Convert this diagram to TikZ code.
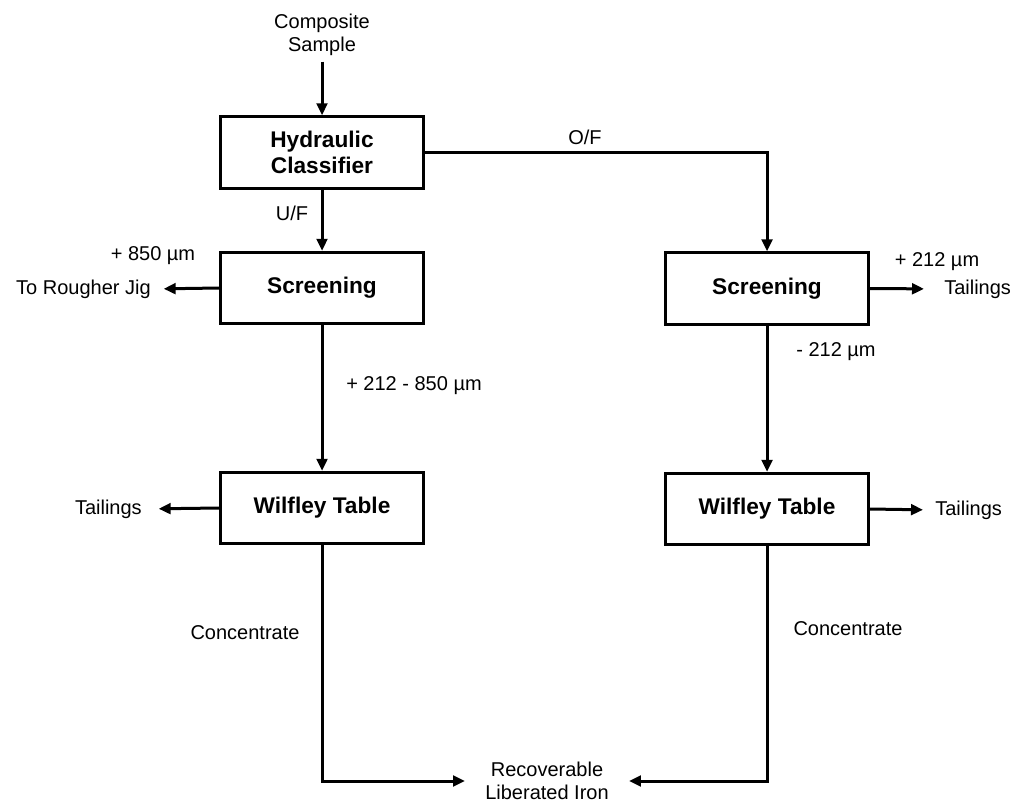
\documentclass[tikz,border=0pt]{standalone}
\usepackage{fontspec}
\setmainfont{Liberation Sans}
\usepackage{tikz}
\usetikzlibrary{positioning,calc}
\usetikzlibrary{arrows.meta}
\tikzset{
  unit/.style={draw=black,line width=2.25pt,fill=white,inner sep=0pt,
    minimum width=152pt,minimum height=53.5pt,align=center,
    font=\fontsize{17}{19.5}\selectfont\bfseries},
  flow/.style={draw=black,line width=2.25pt,-{Triangle[length=9pt,width=8pt]}},
}
\tikzset{lbl/.style={inner sep=0pt,align=center,font=\fontsize{15}{17.5}\selectfont}}

\begin{document}
\begin{tikzpicture}[x=0.75pt,y=-0.75pt]
\useasboundingbox (0,0) rectangle (1012,806);
% process units
\node[unit] (hc) at (322,152.5) {Hydraulic\\Classifier};
\node[unit] (scrl) at (322,288) {Screening};
\node[unit] (scrr) at (767,288.5) {Screening};
\node[unit] (wtl) at (322,508) {Wilfley Table};
\node[unit] (wtr) at (767,509) {Wilfley Table};
% streams in and out
\node[lbl] (feed) at (322,35) {Composite\\Sample};
\node[lbl,anchor=east] (jig) at (151,289) {To Rougher Jig};
\node[lbl,anchor=west] (tailr) at (944,289) {Tailings};
\node[lbl,anchor=east] (tailwl) at (142,509) {Tailings};
\node[lbl,anchor=west] (tailwr) at (935,510) {Tailings};
\node[lbl] (iron) at (547,781) {Recoverable\\Liberated Iron};
% stream labels
\node[lbl] (uf) at (292,213) {U/F};
\node[lbl] (of) at (585,137) {O/F};
\node[lbl] (p850) at (153,256) {+ 850 µm};
\node[lbl] (p212) at (937,262) {+ 212 µm};
\node[lbl] (m212) at (836,352) {- 212 µm};
\node[lbl] (mid) at (414,386) {+ 212 - 850 µm};
\node[lbl] (concl) at (245,633) {Concentrate};
\node[lbl] (concr) at (848,629) {Concentrate};
% connectors
\draw[flow] ([yshift=-4pt]feed.south) -- (hc.north);
\draw[flow] (hc.south) -- (scrl.north);
\draw[flow] (hc.east) -| (scrr.north);
\draw[flow,shorten >=9.5pt] (scrl.west) -- (jig.east);
\draw[flow] (scrl.south) -- (wtl.north);
\draw[flow,shorten >=15pt] (scrr.east) -- (tailr.west);
\draw[flow] (scrr.south) -- (wtr.north);
\draw[flow,shorten >=12.5pt] (wtl.west) -- (tailwl.east);
\draw[flow,shorten >=9pt] (wtr.east) -- (tailwr.west);
\draw[flow,shorten >=15pt] (wtl.south) |- (iron.west);
\draw[flow,shorten >=15pt] (wtr.south) |- (iron.east);
\end{tikzpicture}
\end{document}
